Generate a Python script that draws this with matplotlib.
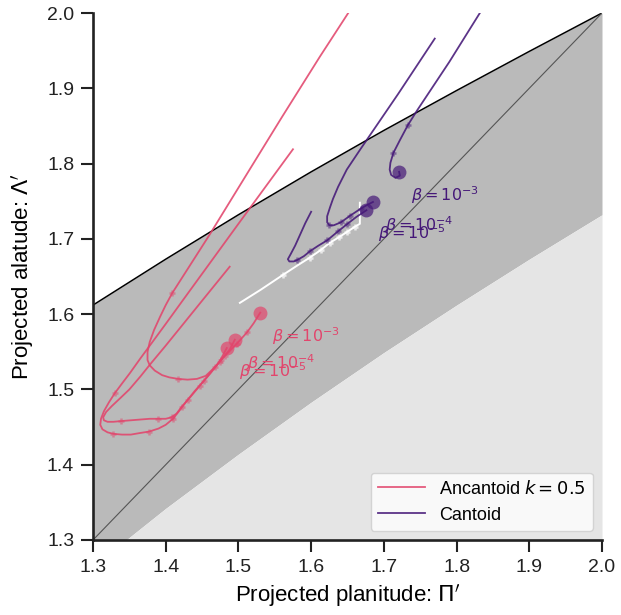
import matplotlib
matplotlib.use("Agg")
import matplotlib.pyplot as plt

plt.rcParams["font.family"] = ["Liberation Sans", "DejaVu Sans"]
plt.rcParams["mathtext.fontset"] = "dejavusans"

PINK = "#e2456c"
PURPLE = "#451878"

# Region boundaries in the (planitude, alatude) plane
grid_pi = [1.3, 1.4, 1.5, 1.6, 1.7, 1.8, 1.9, 2.0]
upper_bound = [1.612, 1.673, 1.732, 1.789, 1.844, 1.897, 1.949, 2.000]
lower_bound = [1.265, 1.342, 1.414, 1.483, 1.549, 1.612, 1.673, 1.732]
diag = [1.3, 2.0]

# Ancantoid (k = 0.5) trajectories
anc_pi_3 = [1.651, 1.612, 1.560, 1.516, 1.460, 1.409, 1.400, 1.392, 1.384, 1.378, 1.375, 1.375, 1.378,
            1.385, 1.395, 1.405, 1.417, 1.430, 1.443, 1.455, 1.468, 1.482, 1.498, 1.512, 1.521, 1.530]
anc_la_3 = [2.000, 1.942, 1.862, 1.793, 1.705, 1.628, 1.612, 1.596, 1.579, 1.563, 1.550, 1.539, 1.532,
            1.525, 1.519, 1.516, 1.514, 1.513, 1.514, 1.518, 1.530, 1.545, 1.561, 1.576, 1.588, 1.602]
anc_mk_3 = [5, 16, 20, 21, 22, 23]

anc_pi_4 = [1.488, 1.451, 1.420, 1.399, 1.380, 1.365, 1.350, 1.337, 1.326, 1.318, 1.314, 1.315, 1.320,
            1.328, 1.339, 1.352, 1.365, 1.378, 1.390, 1.400, 1.408, 1.415, 1.422, 1.433, 1.447, 1.462,
            1.476, 1.488, 1.495]
anc_la_4 = [1.663, 1.619, 1.582, 1.557, 1.535, 1.517, 1.500, 1.488, 1.478, 1.470, 1.463, 1.459, 1.457,
            1.457, 1.458, 1.459, 1.460, 1.461, 1.461, 1.461, 1.463, 1.468, 1.477, 1.489, 1.505, 1.522,
            1.539, 1.553, 1.566]
anc_mk_4 = [14, 18, 20, 22, 24, 26]

anc_pi_5 = [1.575, 1.500, 1.424, 1.400, 1.381, 1.365, 1.351, 1.340, 1.330, 1.322, 1.315, 1.311, 1.310,
            1.313, 1.320, 1.328, 1.340, 1.352, 1.364, 1.377, 1.390, 1.400, 1.410, 1.419, 1.430, 1.440,
            1.452, 1.463, 1.474, 1.484]
anc_la_5 = [1.819, 1.720, 1.619, 1.587, 1.562, 1.541, 1.522, 1.508, 1.495, 1.483, 1.471, 1.461, 1.453,
            1.447, 1.443, 1.441, 1.440, 1.440, 1.442, 1.444, 1.448, 1.453, 1.461, 1.472, 1.486, 1.498,
            1.511, 1.524, 1.537, 1.555]
anc_mk_5 = [8, 15, 19, 22, 24, 26, 28]

# Cantoid trajectories
can_pi_3 = [1.832, 1.790, 1.746, 1.733, 1.722, 1.713, 1.709, 1.708, 1.710, 1.716, 1.722, 1.721]
can_la_3 = [2.000, 1.935, 1.871, 1.851, 1.831, 1.814, 1.801, 1.792, 1.785, 1.781, 1.784, 1.789]
can_mk_3 = [3, 5]

can_pi_4 = [1.770, 1.720, 1.667, 1.649, 1.637, 1.630, 1.626, 1.622, 1.622, 1.625, 1.631, 1.641, 1.654,
            1.668, 1.677, 1.685]
can_la_4 = [1.966, 1.893, 1.818, 1.792, 1.769, 1.753, 1.742, 1.730, 1.722, 1.718, 1.718, 1.722, 1.731,
            1.740, 1.745, 1.749]
can_mk_4 = [9, 11, 12, 13]

can_pi_5 = [1.600, 1.592, 1.585, 1.578, 1.572, 1.568, 1.570, 1.576, 1.581, 1.590, 1.599, 1.610, 1.622,
            1.637, 1.650, 1.662, 1.676]
can_la_5 = [1.736, 1.721, 1.706, 1.691, 1.680, 1.673, 1.670, 1.670, 1.672, 1.677, 1.684, 1.691, 1.698,
            1.710, 1.720, 1.729, 1.738]
can_mk_5 = [8, 10, 12, 13, 14]

# Reference path
ref_pi = [1.502, 1.530, 1.561, 1.580, 1.598, 1.613, 1.626, 1.638, 1.649, 1.660, 1.667, 1.667]
ref_la = [1.615, 1.632, 1.652, 1.664, 1.675, 1.685, 1.695, 1.702, 1.709, 1.716, 1.720, 1.748]
ref_mk = [2, 4, 5, 6, 7, 8, 9]

beta_labels = [r"$\beta = 10^{-3}$", r"$\beta = 10^{-4}$", r"$\beta = 10^{-5}$"]

fig = plt.figure(figsize=(6.21, 6.15), dpi=100)
ax = fig.add_axes([93 / 621, 75 / 615, 509 / 621, 527 / 615])

ax.fill_between(grid_pi, lower_bound, upper_bound, color="#bababa", lw=0, zorder=0)
ax.fill_between(grid_pi, [1.0] * len(grid_pi), lower_bound, color="#e5e5e5", lw=0, zorder=0)
ax.plot(grid_pi, upper_bound, color="black", lw=1.1, zorder=1)
ax.plot(diag, diag, color="#555555", lw=0.8, zorder=1)

ax.plot(ref_pi, ref_la, color="white", lw=1.4, zorder=2)
ax.plot([ref_pi[i] for i in ref_mk], [ref_la[i] for i in ref_mk], ls="none", marker="+",
        ms=5, mew=1.8, color="white", alpha=0.7, zorder=2)


def trajectory(pis, las, marks, color, label, text):
    ax.plot(pis, las, color=color, lw=1.3, alpha=0.88, zorder=3, label=label)
    ax.plot([pis[i] for i in marks], [las[i] for i in marks], ls="none", marker="+",
            ms=5, mew=1.8, color=color, alpha=0.5, zorder=3)
    ax.plot(pis[-1], las[-1], ls="none", marker="o", ms=10, color=color, alpha=0.7,
            mew=0, zorder=4)
    ax.annotate(text, (pis[-1], las[-1]), xytext=(8.5, -21), textcoords="offset points",
                ha="left", va="baseline", fontsize=11.5, color=color, zorder=5)


trajectory(anc_pi_3, anc_la_3, anc_mk_3, PINK, r"Ancantoid $k = 0.5$", beta_labels[0])
trajectory(anc_pi_4, anc_la_4, anc_mk_4, PINK, None, beta_labels[1])
trajectory(anc_pi_5, anc_la_5, anc_mk_5, PINK, None, beta_labels[2])
trajectory(can_pi_3, can_la_3, can_mk_3, PURPLE, "Cantoid", beta_labels[0])
trajectory(can_pi_4, can_la_4, can_mk_4, PURPLE, None, beta_labels[1])
trajectory(can_pi_5, can_la_5, can_mk_5, PURPLE, None, beta_labels[2])

ax.set_xlim(1.3, 2.0)
ax.set_ylim(1.3, 2.0)
ax.set_xticks([1.3, 1.4, 1.5, 1.6, 1.7, 1.8, 1.9, 2.0])
ax.set_yticks([1.3, 1.4, 1.5, 1.6, 1.7, 1.8, 1.9, 2.0])
ax.set_xlabel(r"Projected planitude: $\Pi'$", fontsize=16, labelpad=5)
ax.set_ylabel(r"Projected alatude: $\Lambda'$", fontsize=16, labelpad=8)
ax.tick_params(labelsize=14, length=8.5, width=1.5, pad=5, color="#222222", labelcolor="#222222")
for side in ("top", "right"):
    ax.spines[side].set_visible(False)
for side in ("left", "bottom"):
    ax.spines[side].set_linewidth(1.9)
    ax.spines[side].set_color("#222222")

leg = ax.legend(loc="lower right", fontsize=13, frameon=True, fancybox=True,
                borderaxespad=0.5, handlelength=2.6)
leg.get_frame().set_edgecolor("#cccccc")
leg.get_frame().set_facecolor("white")
leg.get_frame().set_alpha(0.8)

fig.savefig("out.png", dpi=100)
